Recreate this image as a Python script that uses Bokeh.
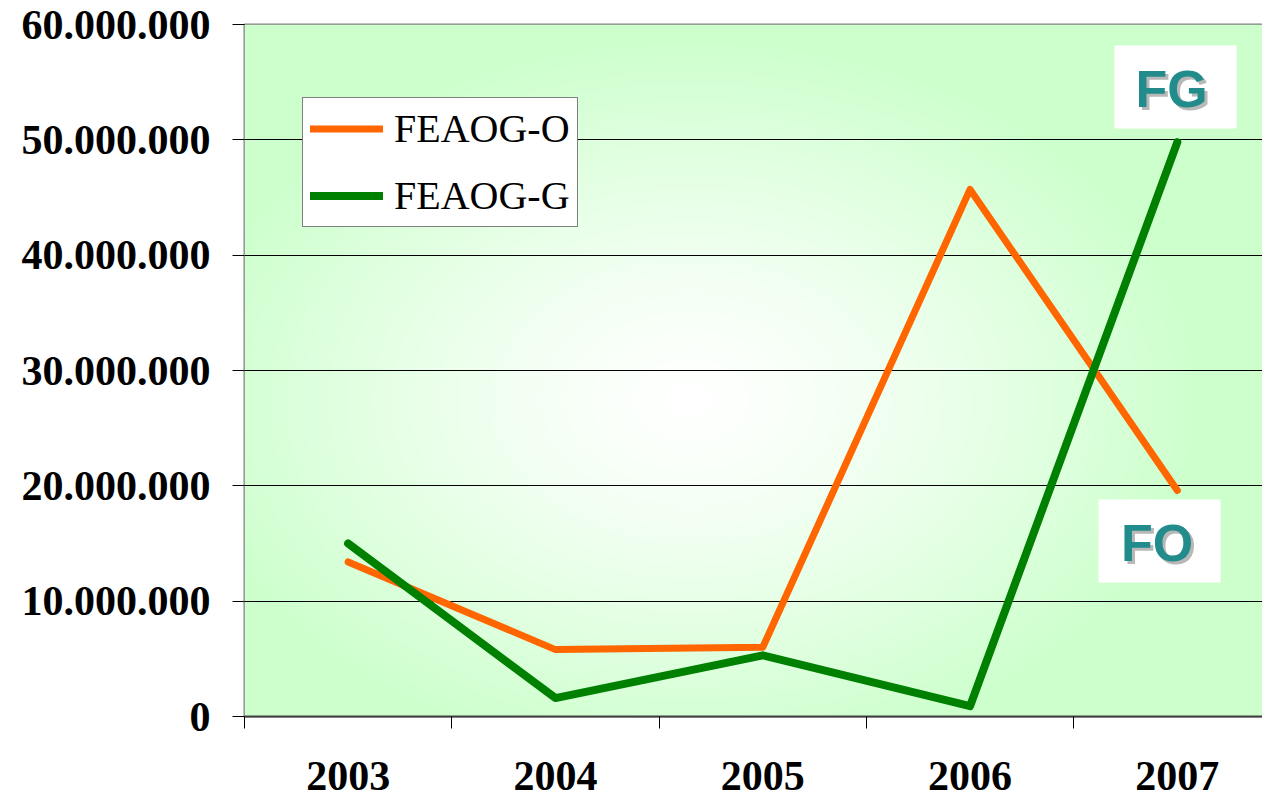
import numpy as np
from bokeh.plotting import figure
from bokeh.models import FixedTicker, Legend, LegendItem, Range1d
from bokeh.core.properties import value
from bokeh.embed import file_html
from bokeh.resources import INLINE

# ---- data ----
years = ["2003", "2004", "2005", "2006", "2007"]
feaog_o = [13.4e6, 5.8e6, 6.0e6, 45.7e6, 19.6e6]
feaog_g = [15.0e6, 1.6e6, 5.3e6, 0.9e6, 49.8e6]
y_ticks = [0, 10e6, 20e6, 30e6, 40e6, 50e6, 60e6]
y_tick_labels = ["0", "10.000.000", "20.000.000", "30.000.000",
                 "40.000.000", "50.000.000", "60.000.000"]

# ---- layout ----
W, H = 1262, 792
BL, BT, BB, BR = 244, 24, 76, 0
FW, FH = W - BL - BR, H - BT - BB
px_per_cat = 207.3
x_end = FW / px_per_cat
y_end = 60e6

xc = [i + 0.5 for i in range(len(years))]

p = figure(width=W, height=H, output_backend="svg", toolbar_location=None,
           x_range=Range1d(0, x_end), y_range=Range1d(0, y_end),
           min_border_left=BL, min_border_top=BT, min_border_bottom=BB,
           min_border_right=BR)
p.background_fill_color = "white"
p.border_fill_color = "white"
p.outline_line_color = "#808080"
p.outline_line_width = 2

# radial gradient background
nx, ny = 400, 300
sx = np.linspace(0, FW, nx) + BL
sy = np.linspace(FH, 0, ny) + BT  # row 0 at bottom
SX, SY = np.meshgrid(sx, sy)
cx, cy, rx, ry = 690, 400, 520, 370
d = np.clip(np.sqrt(((SX - cx) / rx) ** 2 + ((SY - cy) / ry) ** 2), 0, 1)
t = d ** 1.3
r = (255 - 51 * t).astype(np.uint32)
g = np.full_like(r, 255)
b = (255 - 51 * t).astype(np.uint32)
img = (255 << 24) | (b << 16) | (g << 8) | r
bg = p.image_rgba(image=[img.astype(np.uint32)], x=0, y=0, dw=x_end, dh=y_end)
bg.level = "image"

# grid
p.xgrid.visible = False
p.ygrid.ticker = FixedTicker(ticks=y_ticks)
p.ygrid.grid_line_color = "black"
p.ygrid.grid_line_width = 1

# y axis
p.yaxis.ticker = FixedTicker(ticks=y_ticks)
p.yaxis.major_label_overrides = {v: s for v, s in zip(y_ticks, y_tick_labels)}
p.yaxis.major_label_text_font = "Liberation Serif"
p.yaxis.major_label_text_font_style = "bold"
p.yaxis.major_label_text_font_size = "42px"
p.yaxis.major_label_text_color = "black"
p.yaxis.major_tick_out = 12
p.yaxis.major_tick_in = 0
p.yaxis.major_tick_line_color = "black"
p.yaxis.minor_tick_line_color = None
p.yaxis.axis_line_color = None
p.yaxis.major_label_standoff = 22

# x axis
p.xaxis.ticker = FixedTicker(ticks=xc, minor_ticks=[0, 1, 2, 3, 4])
p.xaxis.major_label_overrides = {v: s for v, s in zip(xc, years)}
p.xaxis.major_label_text_font = "Liberation Serif"
p.xaxis.major_label_text_font_style = "bold"
p.xaxis.major_label_text_font_size = "42px"
p.xaxis.major_label_text_color = "black"
p.xaxis.major_tick_out = 0
p.xaxis.major_tick_in = 0
p.xaxis.minor_tick_out = 12
p.xaxis.minor_tick_in = 0
p.xaxis.minor_tick_line_color = "black"
p.xaxis.axis_line_color = "#404040"
p.xaxis.axis_line_width = 2
p.xaxis.major_label_standoff = 33

# lines
lo = p.line(xc, feaog_o, line_color="#ff6600", line_width=7, line_cap="round",
            line_join="round")
lg = p.line(xc, feaog_g, line_color="#008000", line_width=8, line_cap="round",
            line_join="round")

# FG / FO labels
ppm = FH / y_end
def to_data(sxp, syp):
    return (sxp - BL) / px_per_cat, (BT + FH - syp) / ppm

for (bx, by), (tx, ty), txt in [((1175, 86.5), (1171, 88), "FG"),
                                 ((1159, 540.5), (1156.5, 542), "FO")]:
    dx, dy = to_data(bx, by)
    p.rect(x=[dx], y=[dy], width=122, height=83, width_units="screen",
           height_units="screen", fill_color="white", line_color=None)
    ex, ey = to_data(tx, ty)
    p.text(x=[ex], y=[ey], text=[txt], x_offset=3, y_offset=3,
           text_font=value("Liberation Sans"), text_font_style="bold",
           text_font_size="52px", text_color="#b8b8b8",
           text_align="center", text_baseline="middle")
    p.text(x=[ex], y=[ey], text=[txt],
           text_font=value("Liberation Sans"), text_font_style="bold",
           text_font_size="52px", text_color="#228b8b",
           text_align="center", text_baseline="middle")

legend = Legend(items=[LegendItem(label="FEAOG-O", renderers=[lo]),
                       LegendItem(label="FEAOG-G", renderers=[lg])],
                location=(58, 489))
legend.label_text_font = "Liberation Serif"
legend.label_text_font_size = "40px"
legend.label_text_color = "black"
legend.glyph_width = 73
legend.glyph_height = 45
legend.label_height = 45
legend.label_standoff = 11
legend.spacing = 20
legend.padding = 7
legend.margin = 0
legend.border_line_color = "black"
legend.border_line_width = 1
legend.background_fill_color = "white"
legend.background_fill_alpha = 1
p.add_layout(legend, "center")

open("out.html", "w").write(file_html(p, INLINE))
